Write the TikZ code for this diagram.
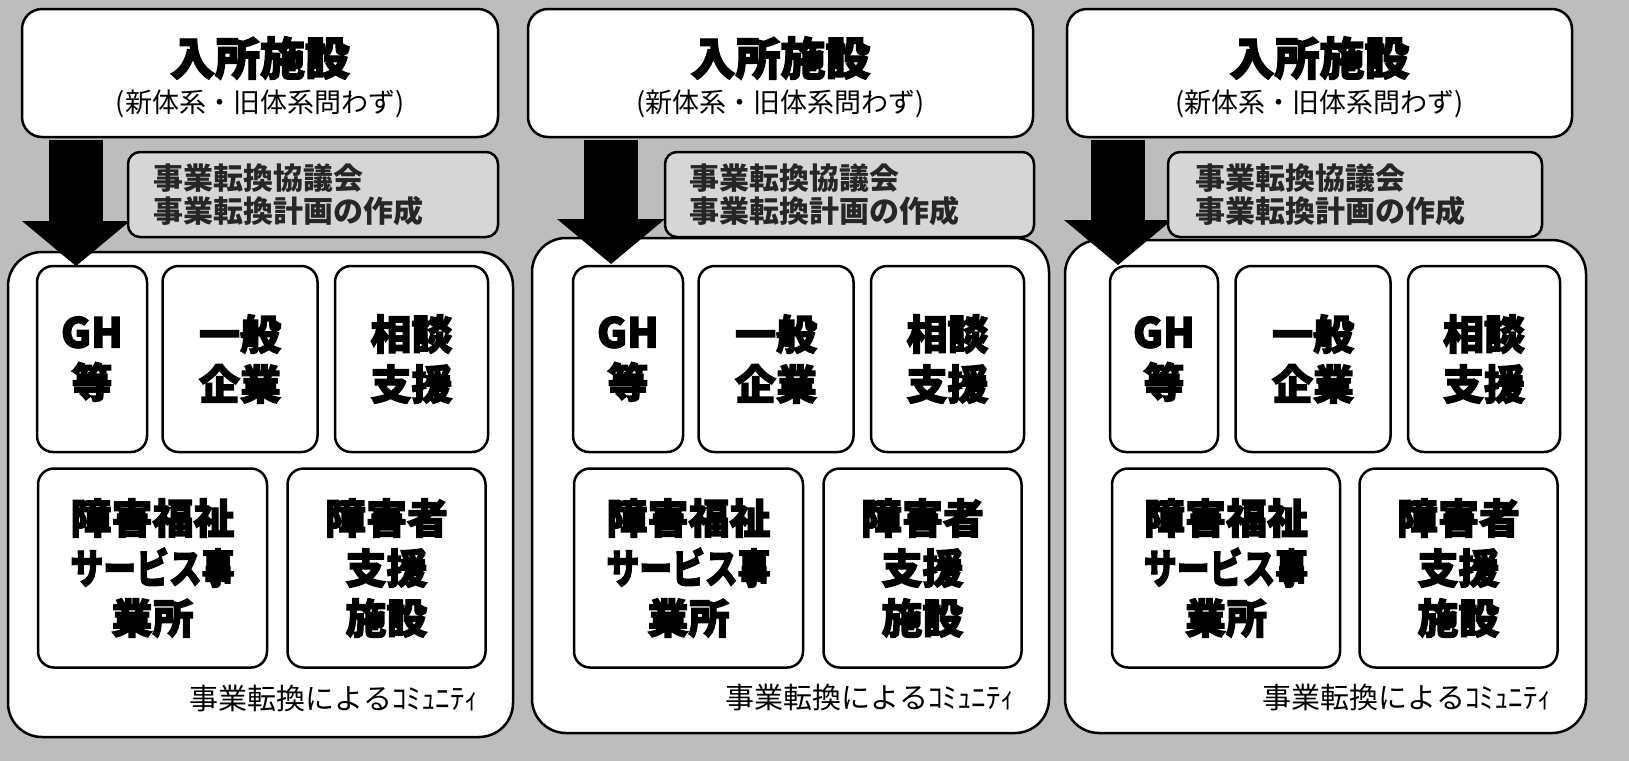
\documentclass[tikz,border=0pt]{standalone}
\usepackage{fontspec}
\setmainfont{Noto Sans CJK JP}
\newfontfamily\heavyfont{Noto Sans CJK JP}[FakeBold=3]
\usepackage{graphicx}
\usetikzlibrary{positioning,arrows.meta}

\tikzset{
	topbox/.style={draw=black, line width=2.5pt, fill=white, rounded corners=20pt, minimum height=128pt},
	midbox/.style={draw=black, line width=2.5pt, fill=black!16, rounded corners=12pt, minimum height=85pt, inner xsep=24pt, text width=320pt, align=left, text=black!85, font=\fontsize{30}{33}\selectfont\bfseries},
	combox/.style={draw=black, line width=2.5pt, fill=white, rounded corners=34pt},
	unitbox/.style={draw=black, line width=2.5pt, fill=white, rounded corners=16pt, minimum height=186pt, align=center, inner sep=0pt, font=\heavyfont\bfseries\fontsize{41}{50}\selectfont},
	lowbox/.style={unitbox, minimum height=199pt},
	titletext/.style={inner sep=0pt, font=\heavyfont\bfseries\fontsize{45}{50}\selectfont},
	subtext/.style={inner sep=0pt, font=\fontsize{27}{30}\selectfont},
	comtext/.style={inner sep=0pt, font=\fontsize{29}{32}\selectfont},
	bigarrow/.style={line width=54pt, -{Triangle[length=45pt, width=108pt, line width=0pt]}}
}

\begin{document}
\begin{tikzpicture}[x=1pt, y=-1pt]
	\fill[black!26] (0,0) rectangle (1629,761);

	\node[combox, minimum width=505pt, minimum height=485pt] (com1) at (260.5,494.5) {};
	\node[unitbox, minimum width=110pt] (gh1) at (92,359) {GH\\等};
	\node[unitbox, minimum width=155pt, right=13pt of gh1] (ippan1) {一般\\企業};
	\node[unitbox, minimum width=153pt, right=15pt of ippan1] (sodan1) {相談\\支援};
	\node[lowbox, minimum width=229pt, below right=14pt and 1pt of gh1.south west] (fukushi1) {障害福祉\\\scalebox{0.8}[1]{サービス事}\\業所};
	\node[lowbox, minimum width=198pt, right=18pt of fukushi1] (shisetsu1) {障害者\\支援\\施設};
	\node[comtext, anchor=east] (lab1) at ([xshift=-35pt, yshift=40pt]com1.south east) {事業転換によるｺﾐｭﾆﾃｨ};
	\node[topbox, minimum width=476pt] (top1) at (260,73) {};
	\node[titletext] (ttl1) at ([yshift=15pt]top1.center) {入所施設};
	\node[subtext] (sub1) at ([yshift=-31pt]top1.center) {(新体系・旧体系問わず)};
	\coordinate (tip1) at (76,266);
	\draw[bigarrow] ([yshift=-1.5pt]top1.south -| tip1) -- (tip1);
	\node[midbox, minimum width=370pt] (mid1) at (313,194.5) {事業転換協議会\\事業転換計画の作成};

	\node[combox, minimum width=517pt, minimum height=495pt] (com2) at (790.5,485.5) {};
	\node[unitbox, minimum width=110pt] (gh2) at (628,359) {GH\\等};
	\node[unitbox, minimum width=155pt, right=13pt of gh2] (ippan2) {一般\\企業};
	\node[unitbox, minimum width=153pt, right=15pt of ippan2] (sodan2) {相談\\支援};
	\node[lowbox, minimum width=229pt, below right=14pt and 1pt of gh2.south west] (fukushi2) {障害福祉\\\scalebox{0.8}[1]{サービス事}\\業所};
	\node[lowbox, minimum width=198pt, right=18pt of fukushi2] (shisetsu2) {障害者\\支援\\施設};
	\node[comtext, anchor=east] (lab2) at ([xshift=-35pt, yshift=37pt]com2.south east) {事業転換によるｺﾐｭﾆﾃｨ};
	\node[topbox, minimum width=505pt] (top2) at (780.5,73) {};
	\node[titletext] (ttl2) at ([yshift=15pt]top2.center) {入所施設};
	\node[subtext] (sub2) at ([yshift=-31pt]top2.center) {(新体系・旧体系問わず)};
	\coordinate (tip2) at (611,264);
	\draw[bigarrow] ([yshift=-1.5pt]top2.south -| tip2) -- (tip2);
	\node[midbox, minimum width=369pt] (mid2) at (849.5,194.5) {事業転換協議会\\事業転換計画の作成};

	\node[combox, minimum width=521pt, minimum height=493pt] (com3) at (1325.5,486.5) {};
	\node[unitbox, minimum width=108pt] (gh3) at (1164,359) {GH\\等};
	\node[unitbox, minimum width=155pt, right=15pt of gh3] (ippan3) {一般\\企業};
	\node[unitbox, minimum width=152pt, right=15pt of ippan3] (sodan3) {相談\\支援};
	\node[lowbox, minimum width=228pt, below right=14pt and 2pt of gh3.south west] (fukushi3) {障害福祉\\\scalebox{0.8}[1]{サービス事}\\業所};
	\node[lowbox, minimum width=198pt, right=17pt of fukushi3] (shisetsu3) {障害者\\支援\\施設};
	\node[comtext, anchor=east] (lab3) at ([xshift=-35pt, yshift=37pt]com3.south east) {事業転換によるｺﾐｭﾆﾃｨ};
	\node[topbox, minimum width=505pt] (top3) at (1319.5,73) {};
	\node[titletext] (ttl3) at ([yshift=15pt]top3.center) {入所施設};
	\node[subtext] (sub3) at ([yshift=-31pt]top3.center) {(新体系・旧体系問わず)};
	\coordinate (tip3) at (1118,265);
	\draw[bigarrow] ([yshift=-1.5pt]top3.south -| tip3) -- (tip3);
	\node[midbox, minimum width=374pt] (mid3) at (1355,194.5) {事業転換協議会\\事業転換計画の作成};
\end{tikzpicture}
\end{document}
